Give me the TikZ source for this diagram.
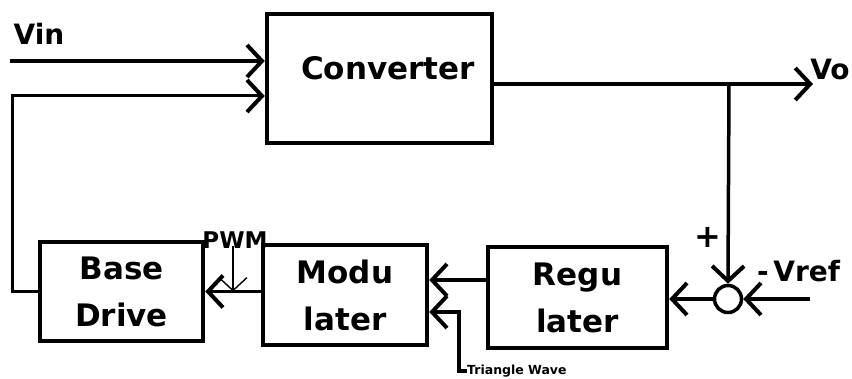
\documentclass[tikz,border=0pt]{standalone}
\usepackage{fontspec}
\setmainfont{DejaVu Sans}
\usetikzlibrary{arrows.meta}
\begin{document}
\begin{tikzpicture}[x=1pt,y=-1pt,
  blk/.style={draw, line width=4.5pt, inner sep=0pt, align=center,
    font=\bfseries\fontsize{31}{47}\selectfont},
  lbl/.style={inner sep=0pt, font=\bfseries\fontsize{28}{30}\selectfont},
  wire/.style={line width=3.5pt},
  barb/.style={wire, -{Straight Barb[length=15pt,width=32pt,line width=4pt]}}]
  \useasboundingbox (0,0) rectangle (852,379);
  % blocks
  \node[blk, minimum width=225, minimum height=129] (conv) at (379.5,78.5) {};
  \node[lbl, font=\bfseries\fontsize{31}{32}\selectfont] (convtxt) at (388,68) {Converter};
  \node[blk, minimum width=163, minimum height=99] (base) at (121.5,291.5) {Base\\Drive};
  \node[blk, minimum width=164, minimum height=100] (modu) at (345,295) {Modu\\later};
  \node[blk, minimum width=179, minimum height=101] (reg) at (577.5,297.5) {Regu\\later};
  \node[draw, circle, line width=3.5pt, minimum size=27, inner sep=0pt] (sum) at (728,299) {};
  % labels
  \node[lbl] (vintxt) at (39,34) {Vin};
  \node[lbl] (votxt) at (830,69) {Vo};
  \node[lbl, font=\bfseries\fontsize{23}{24}\selectfont] (pwmtxt) at (235,240) {PWM};
  \node[lbl, font=\bfseries\fontsize{32}{32}\selectfont] (plus) at (708,237) {+};
  \node[lbl, anchor=west] (vref) at (757,271) {-\,Vref};
  \node[lbl, anchor=west, font=\bfseries\fontsize{12.5}{13}\selectfont] (tri) at (467,371) {Triangle Wave};
  % connectors
  \coordinate (vin) at (10,61);
  \coordinate (fb) at (12,96);
  \coordinate (vo) at (813,84);
  \coordinate (br) at (729,84);
  \coordinate (ref) at (810,299);
  \coordinate (pwm) at (233,246);
  \coordinate (tw) at (459,312);
  \draw[barb, line width=4.5pt] (vin) -- (vin -| conv.west);
  \draw[barb, line width=3pt] (base.west) -| (fb) -- (fb -| conv.west);
  \draw[barb, line width=4pt] (conv.east |- vo) -- (vo);
  \draw[barb] (br) -- (sum.north);
  \draw[barb] (ref) -- (sum.east);
  \draw[barb] (sum.west) -- (sum.west -| reg.east);
  \draw[barb] ([yshift=17.5pt]reg.west) -- ([yshift=17.5pt]reg.west -| modu.east);
  \draw[barb] (tri.west) -| (tw) -- (tw -| modu.east);
  \draw[barb] (modu.west |- base.east) -- (base.east);
  \draw[line width=1.4pt, -{Straight Barb[length=13pt,width=28pt,line width=1.4pt]}]
    (pwm) -- (pwm |- base.east);
\end{tikzpicture}
\end{document}
